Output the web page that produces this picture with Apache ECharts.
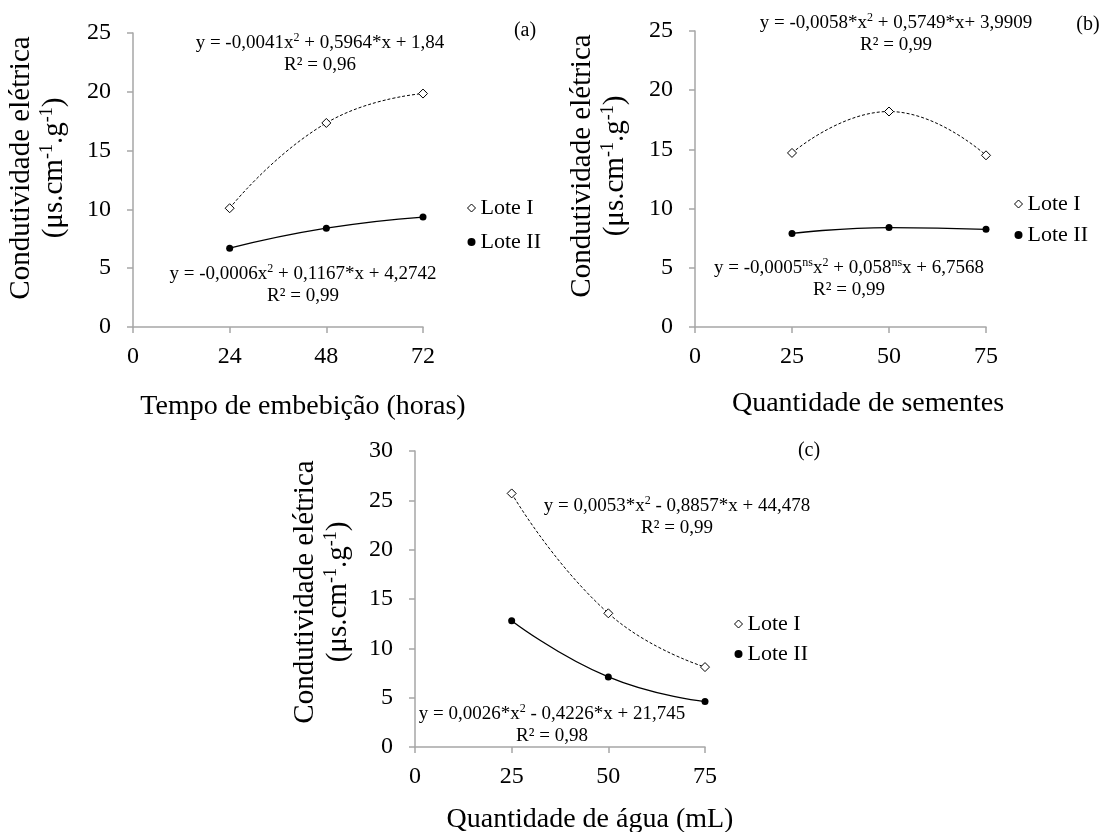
<!DOCTYPE html>
<html lang="pt">
<head>
    <meta charset="UTF-8">
    <title>Condutividade elétrica</title>
    <script src="https://cdn.jsdelivr.net/npm/echarts@6/dist/echarts.min.js"></script>
    <style>
        html, body {
            margin: 0;
            padding: 0;
            background: #fff;
        }
        #chart {
            width: 1103px;
            height: 832px;
        }
    </style>
</head>
<body>
<div id="chart"></div>
<script>
    let serif = "'Liberation Serif', 'Times New Roman', serif";

    // (a) tempo de embebição
    let horas = [24, 48, 72];
    let aLoteI = [10.1, 17.35, 19.85];
    let aLoteII = [6.7, 8.4, 9.35];

    // (b) quantidade de sementes
    let sementes = [25, 50, 75];
    let bLoteI = [14.7, 18.2, 14.5];
    let bLoteII = [7.9, 8.4, 8.25];

    // (c) quantidade de água
    let agua = [25, 50, 75];
    let cLoteI = [25.7, 13.55, 8.1];
    let cLoteII = [12.8, 7.1, 4.6];

    let axisGray = '#a6a6a6';

    function xAx(gi, max, step) {
        return {
            type: 'value', gridIndex: gi, min: 0, max: max, interval: step,
            splitLine: {show: false},
            axisLine: {show: true, lineStyle: {color: axisGray, width: 1.5}},
            axisTick: {show: true, length: 6, lineStyle: {color: axisGray, width: 1.5}},
            axisLabel: {color: '#000', fontSize: 24, fontFamily: serif, margin: 18}
        };
    }

    function yAx(gi, max) {
        return {
            type: 'value', gridIndex: gi, min: 0, max: max, interval: 5,
            splitLine: {show: false},
            axisLine: {show: true, lineStyle: {color: axisGray, width: 1.5}},
            axisTick: {show: true, length: 6, lineStyle: {color: axisGray, width: 1.5}},
            axisLabel: {color: '#000', fontSize: 24, fontFamily: serif, margin: 22}
        };
    }

    function pts(xs, ys) {
        return xs.map(function (x, i) { return [x, ys[i]]; });
    }

    function lotes(gi, xs, s1, s2) {
        return [{
            name: 'Lote I', type: 'line', xAxisIndex: gi, yAxisIndex: gi,
            data: pts(xs, s1), smooth: true,
            symbol: 'diamond', symbolSize: 9,
            itemStyle: {color: '#fff', borderColor: '#000', borderWidth: 1},
            lineStyle: {color: '#000', width: 1, type: [3, 2]},
            emphasis: {disabled: true}, z: 3
        }, {
            name: 'Lote II', type: 'line', xAxisIndex: gi, yAxisIndex: gi,
            data: pts(xs, s2), smooth: true,
            symbol: 'circle', symbolSize: 7,
            itemStyle: {color: '#000'},
            lineStyle: {color: '#000', width: 1.3},
            emphasis: {disabled: true}, z: 3
        }];
    }

    function legend(left, top, gap) {
        return {
            orient: 'vertical', left: left, top: top, itemGap: gap,
            itemWidth: 8, itemHeight: 8, selectedMode: false,
            textStyle: {fontSize: 22, fontFamily: serif, color: '#000', lineHeight: 24},
            data: [
                {name: 'Lote I', icon: 'diamond', itemStyle: {color: '#fff', borderColor: '#000', borderWidth: 1}},
                {name: 'Lote II', icon: 'circle', itemStyle: {color: '#000', borderWidth: 0}}
            ]
        };
    }

    // textos livres: equações, títulos dos eixos, letras dos painéis
    function txt(x, y, text, size, rot, lh) {
        return {
            type: 'text', x: x, y: y, rotation: rot || 0, silent: true,
            style: {
                text: text, fill: '#000', fontSize: size, fontFamily: serif,
                align: 'center', verticalAlign: 'middle', lineHeight: lh || size + 3,
                rich: {
                    s: {fontSize: Math.round(size * 0.62), fontFamily: serif, verticalAlign: 'top'}
                }
            }
        };
    }

    let yTitle = 'Condutividade elétrica\n(μs.cm{s|-1}.g{s|-1})';
    let up = Math.PI / 2;

    let options = {
        animation: false,
        backgroundColor: '#fff',
        grid: [
            {left: 133, top: 33, width: 290, height: 294},
            {left: 695, top: 31, width: 291, height: 296},
            {left: 415, top: 451, width: 290, height: 296}
        ],
        xAxis: [xAx(0, 72, 24), xAx(1, 75, 25), xAx(2, 75, 25)],
        yAxis: [yAx(0, 25), yAx(1, 25), yAx(2, 30)],
        legend: [legend(462, 191, 10), legend(1009, 187, 7), legend(729, 607, 6)],
        series: [].concat(
            lotes(0, horas, aLoteI, aLoteII),
            lotes(1, sementes, bLoteI, bLoteII),
            lotes(2, agua, cLoteI, cLoteII)
        ),
        graphic: [
            txt(320, 54, 'y = -0,0041x{s|2} + 0,5964*x + 1,84\nR² = 0,96', 19, 0, 22),
            txt(303, 285, 'y = -0,0006x{s|2} + 0,1167*x + 4,2742\nR² = 0,99', 19, 0, 22),
            txt(896, 34, 'y = -0,0058*x{s|2} + 0,5749*x+ 3,9909\nR² = 0,99', 19, 0, 22),
            txt(849, 279, 'y = -0,0005{s|ns}x{s|2} + 0,058{s|ns}x + 6,7568\nR² = 0,99', 19, 0, 22),
            txt(677, 517, 'y = 0,0053*x{s|2} - 0,8857*x + 44,478\nR² = 0,99', 19, 0, 22),
            txt(552, 725, 'y = 0,0026*x{s|2} - 0,4226*x + 21,745\nR² = 0,98', 19, 0, 22),
            txt(525, 31, '(a)', 20),
            txt(1088, 25, '(b)', 20),
            txt(809, 451, '(c)', 20),
            txt(303, 407, 'Tempo de embebição (horas)', 28),
            txt(868, 404, 'Quantidade de sementes', 28),
            txt(590, 820, 'Quantidade de água (mL)', 28),
            txt(38, 168, yTitle, 29, up, 33),
            txt(599, 166, yTitle, 29, up, 33),
            txt(322, 592, yTitle, 29, up, 33)
        ]
    };

    let chart = echarts.init(document.getElementById('chart'));
    chart.setOption(options);
</script>
</body>
</html>
